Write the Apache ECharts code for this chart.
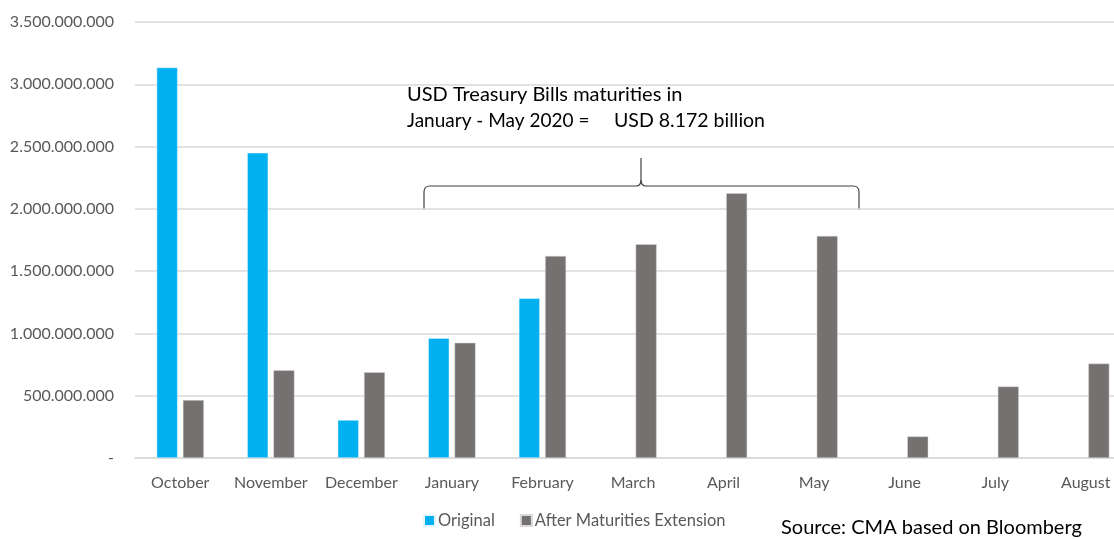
<!DOCTYPE html>
<html><head><meta charset="utf-8">
<script src="https://cdn.jsdelivr.net/npm/echarts@6/dist/echarts.min.js"></script>
<style>html,body{margin:0;padding:0;background:#fff;overflow:hidden;width:1114px;height:539px}#c{width:1131px;height:539px}</style>
</head><body><div id="c"></div>
<script>
const categories = ['October','November','December','January','February','March','April','May','June','July','August'];
const original = [3135000000, 2450000000, 305000000, 962000000, 1282000000, null, null, null, null, null, null];
const extended = [465000000, 705000000, 689000000, 925000000, 1622000000, 1716000000, 2126000000, 1783000000, 173000000, 574000000, 758000000];
const yMax = 3500000000;
const yInterval = 500000000;
const FONT = 'Lato';

function fmt(v){
  if (v === 0) return '-';
  return String(Math.round(v)).replace(/\B(?=(\d{3})+(?!\d))/g, '.');
}

const braceStyle = {fill: 'none', stroke: '#404040', lineWidth: 1.2};
function ln(x1,y1,x2,y2){ return {type:'line', shape:{x1,y1,x2,y2}, style: braceStyle}; }
function qc(x1,y1,cx,cy,x2,y2){ return {type:'bezierCurve', shape:{x1,y1,x2,y2,cpx1:cx,cpy1:cy}, style: braceStyle}; }

const chart = echarts.init(document.getElementById('c'));
chart.setOption({
  animation: false,
  textStyle: {fontFamily: FONT},
  grid: {left: 135, right: 0, top: 22, bottom: 81, containLabel: false},
  legend: {
    top: 512, left: 423, padding: 0,
    itemWidth: 11, itemHeight: 11, itemGap: 25,
    icon: 'rect',
    textStyle: {fontFamily: FONT, fontSize: 16.5, color: '#595959', padding: [0,0,0,-2]},
    data: ['Original','After Maturities Extension']
  },
  xAxis: {
    type: 'category', data: categories,
    axisLine: {lineStyle: {color: '#d9d9d9', width: 1.5}},
    axisTick: {show: false},
    axisLabel: {color: '#595959', fontSize: 16, fontFamily: FONT, margin: 17, interval: 0}
  },
  yAxis: {
    type: 'value', min: 0, max: yMax, interval: yInterval,
    axisLine: {show: false}, axisTick: {show: false},
    splitLine: {lineStyle: {color: '#d9d9d9', width: 1.5}},
    axisLabel: {color: '#595959', fontSize: 16, fontFamily: FONT, margin: 21, formatter: fmt}
  },
  series: [
    {name: 'Original', type: 'bar', data: original, barWidth: 21, barGap: '25%',
     itemStyle: {color: '#00B0F0', borderColor: '#e6f6fd', borderWidth: 0.5}},
    {name: 'After Maturities Extension', type: 'bar', data: extended, barWidth: 21,
     itemStyle: {color: '#767171', borderColor: '#d9d9d9', borderWidth: 0.5}}
  ],
  graphic: [
    {type: 'text', x: 407, y: 85, style: {text: 'USD Treasury Bills maturities in', font: '20px Lato', fill: '#000'}},
    {type: 'text', x: 407, y: 111, style: {text: 'January - May 2020 =', font: '19px Lato', fill: '#000'}},
    {type: 'text', x: 614, y: 111, style: {text: 'USD 8.172 billion', font: '19.5px Lato', fill: '#000'}},
    ln(424,210,424,192), qc(424,192,424,186,430,186), ln(430,186,636,186), qc(636,186,641,186,641,180), ln(641,180,641,158),
    qc(641,180,641,186,646,186), ln(646,186,853,186), qc(853,186,859,186,859,192), ln(859,192,859,210),
    {type: 'text', x: 781, y: 518, style: {text: 'Source: CMA based on Bloomberg', font: '20px Lato', fill: '#000'}}
  ]
});
</script></body></html>
